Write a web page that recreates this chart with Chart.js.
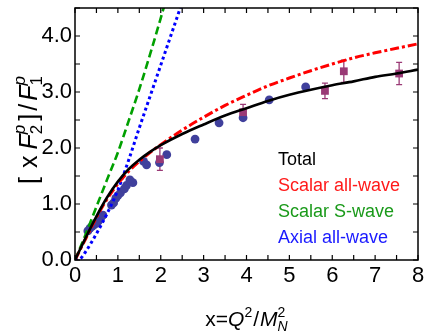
<!DOCTYPE html>
<html>
<head>
<meta charset="utf-8">
<script src="https://cdn.jsdelivr.net/npm/chart.js@4.4.0/dist/chart.umd.min.js"></script>
<style>
  html, body { margin: 0; padding: 0; background: #fff; }
  canvas { display: block; }
</style>
</head>
<body>
<canvas id="myChart" width="425" height="333"></canvas>
<script>
  // model curves
  const curveX = [0, 0.25, 0.5, 0.75, 1, 1.25, 1.5, 1.75, 2, 2.5, 3, 3.5, 4, 4.5, 5, 5.5, 6, 6.5, 7, 7.5, 8];
  const totalY = [0, 0.40, 0.78, 1.12, 1.40, 1.62, 1.79, 1.93, 2.05, 2.25, 2.42, 2.58, 2.71, 2.84, 2.95, 3.04, 3.12, 3.19, 3.27, 3.33, 3.40];
  const scalarAllY = [0, 0.38, 0.76, 1.09, 1.36, 1.58, 1.76, 1.92, 2.06, 2.32, 2.55, 2.76, 2.94, 3.11, 3.25, 3.38, 3.50, 3.61, 3.70, 3.78, 3.86];
  const scalarSX = [0, 0.25, 0.5, 0.75, 1, 1.25, 1.5, 1.75, 2, 2.25];
  const scalarSY = [0, 0.46, 0.95, 1.44, 1.92, 2.48, 3.05, 3.67, 4.32, 5.0];
  const axialX = [0, 0.12, 0.25, 0.5, 0.75, 1, 1.25, 1.5, 1.75, 2, 2.25, 2.5];
  const axialY = [0, 0.02, 0.15, 0.47, 0.83, 1.25, 1.78, 2.36, 2.92, 3.48, 4.04, 4.60];

  // data points
  const circleX = [0.30, 0.35, 0.40, 0.45, 0.50, 0.55, 0.60, 0.65, 0.85, 0.90, 0.95, 1.00, 1.06, 1.15, 1.20, 1.28, 1.35, 1.60, 1.67, 1.97, 2.14, 2.80, 3.36, 3.92, 4.53, 5.38];
  const circleY = [0.52, 0.57, 0.60, 0.63, 0.66, 0.70, 0.75, 0.80, 0.98, 1.02, 1.10, 1.15, 1.20, 1.27, 1.33, 1.43, 1.38, 1.76, 1.70, 1.74, 1.88, 2.16, 2.45, 2.54, 2.86, 3.09];
  const squareX = [1.98, 3.92, 5.83, 6.27, 7.56];
  const squareY = [1.80, 2.64, 3.02, 3.37, 3.33];
  const squareErr = [0.20, 0.14, 0.14, 0.20, 0.20];

  const xTicks = [0, 1, 2, 3, 4, 5, 6, 7, 8];
  const yTicks = [0, 1, 2, 3, 4];

  const legendLabels = ['Total', 'Scalar all-wave', 'Scalar S-wave', 'Axial all-wave'];
  const legendColors = ['#000000', '#ff1a1a', '#1a9a1a', '#1a1aff'];

  const FONT = "'Liberation Sans', Arial, sans-serif";
  const circleColor = '#40409c';
  const squareColor = '#9a3a76';

  function pts(xs, ys) {
    return xs.map((x, i) => ({ x: x, y: ys[i] }));
  }

  // text made of parts: plain text, gaps, stacked super/subscripts
  function partWidth(ctx, p) {
    if (p.gap) return p.gap;
    if (p.stack) return Math.max(...p.stack.map(s => { ctx.font = s.f; return ctx.measureText(s.t).width; }));
    ctx.font = p.f;
    return ctx.measureText(p.t).width;
  }
  function richWidth(ctx, parts) {
    return parts.reduce((w, p) => w + partWidth(ctx, p), 0);
  }
  function drawRich(ctx, x, y, parts) {
    parts.forEach(p => {
      const w = partWidth(ctx, p);
      if (p.stack) {
        p.stack.forEach(s => { ctx.font = s.f; ctx.fillText(s.t, x, y + s.dy); });
      } else if (p.t) {
        ctx.font = p.f;
        ctx.fillText(p.t, x, y);
      }
      x += w;
    });
  }

  const YN = '25px ' + FONT, YI = 'italic 25px ' + FONT;
  const YSN = '17px ' + FONT, YSI = 'italic 17px ' + FONT;
  const yTitle = [
    { t: '[', f: YN }, { gap: 9 }, { t: 'x', f: YN }, { gap: 6 }, { t: 'F', f: YI },
    { stack: [{ t: 'p', f: YSI, dy: -12 }, { t: '2', f: YSN, dy: 5 }] },
    { gap: 4 }, { t: ']', f: YN }, { gap: 3 }, { t: '/', f: YN }, { gap: 3 }, { t: 'F', f: YI },
    { stack: [{ t: 'p', f: YSI, dy: -12 }, { t: '1', f: YSN, dy: 5 }] }
  ];
  const XN = '21px ' + FONT, XI = 'italic 21px ' + FONT;
  const XSN = '14px ' + FONT, XSI = 'italic 14px ' + FONT;
  const xTitle = [
    { t: 'x=', f: XN }, { t: 'Q', f: XI },
    { stack: [{ t: '2', f: XSN, dy: -9 }] },
    { gap: 1 }, { t: '/', f: XN }, { gap: 1 }, { t: 'M', f: XI },
    { stack: [{ t: '2', f: XSN, dy: -9 }, { t: 'N', f: XSI, dy: 5 }] }
  ];

  const frame = {
    id: 'frame',
    beforeDatasetsDraw(chart) {
      const ctx = chart.ctx, xs = chart.scales.x, ys = chart.scales.y;
      ctx.save();
      ctx.strokeStyle = squareColor;
      ctx.lineWidth = 1.3;
      squareX.forEach((x, i) => {
        const px = xs.getPixelForValue(x);
        const top = ys.getPixelForValue(squareY[i] + squareErr[i]);
        const bot = ys.getPixelForValue(squareY[i] - squareErr[i]);
        ctx.beginPath();
        ctx.moveTo(px, top); ctx.lineTo(px, bot);
        ctx.moveTo(px - 3, top); ctx.lineTo(px + 3, top);
        ctx.moveTo(px - 3, bot); ctx.lineTo(px + 3, bot);
        ctx.stroke();
      });
      ctx.restore();
    },
    afterDraw(chart) {
      const ctx = chart.ctx, a = chart.chartArea;
      const xs = chart.scales.x, ys = chart.scales.y;
      ctx.save();
      ctx.strokeStyle = '#000';
      ctx.lineWidth = 1.5;
      ctx.strokeRect(a.left, a.top, a.right - a.left, a.bottom - a.top);
      ctx.lineWidth = 1.2;
      ctx.beginPath();
      for (let v = 0; v <= 8; v += 0.5) {
        const px = xs.getPixelForValue(v);
        ctx.moveTo(px, a.bottom); ctx.lineTo(px, a.bottom - 5);
        ctx.moveTo(px, a.top); ctx.lineTo(px, a.top + 5);
      }
      for (let v = 0; v <= 4.5; v += 0.5) {
        const py = ys.getPixelForValue(v);
        ctx.moveTo(a.left, py); ctx.lineTo(a.left + 5, py);
        ctx.moveTo(a.right, py); ctx.lineTo(a.right - 5, py);
      }
      ctx.stroke();

      // legend text
      ctx.font = '18px ' + FONT;
      ctx.textBaseline = 'alphabetic';
      legendLabels.forEach((t, i) => {
        ctx.fillStyle = legendColors[i];
        ctx.fillText(t, 278, 165 + i * 26);
      });

      // axis titles
      ctx.fillStyle = '#000';
      const xw = richWidth(ctx, xTitle);
      drawRich(ctx, (a.left + a.right) / 2 - xw / 2, 326, xTitle);
      ctx.translate(37, 130);
      ctx.rotate(-Math.PI / 2);
      const yw = richWidth(ctx, yTitle);
      drawRich(ctx, -yw / 2, 0, yTitle);
      ctx.restore();
    }
  };

  const data = {
    datasets: [
      {
        label: 'Total',
        data: pts(curveX, totalY),
        showLine: true,
        borderColor: '#000000',
        borderWidth: 2.6,
        pointRadius: 0,
        cubicInterpolationMode: 'monotone'
      },
      {
        label: 'Scalar all-wave',
        data: pts(curveX, scalarAllY),
        showLine: true,
        borderColor: '#ff0000',
        borderWidth: 3,
        borderDash: [9, 3, 3, 3],
        pointRadius: 0,
        cubicInterpolationMode: 'monotone'
      },
      {
        label: 'Scalar S-wave',
        data: pts(scalarSX, scalarSY),
        showLine: true,
        borderColor: '#00a000',
        borderWidth: 2.6,
        borderDash: [8, 4],
        pointRadius: 0,
        cubicInterpolationMode: 'monotone',
        clip: 0
      },
      {
        label: 'Axial all-wave',
        data: pts(axialX, axialY),
        showLine: true,
        borderColor: '#0000ff',
        borderWidth: 3,
        borderDash: [3, 3],
        pointRadius: 0,
        cubicInterpolationMode: 'monotone',
        clip: 0
      },
      {
        label: 'squares',
        data: pts(squareX, squareY),
        pointStyle: 'rect',
        pointRadius: 5.5,
        backgroundColor: squareColor,
        borderWidth: 0
      },
      {
        label: 'circles',
        data: pts(circleX, circleY),
        pointRadius: 4.4,
        backgroundColor: circleColor,
        borderWidth: 0
      }
    ]
  };

  function noPad(s) {
    s.paddingTop = 0; s.paddingBottom = 0; s.paddingLeft = 0; s.paddingRight = 0;
  }

  const config = {
    type: 'scatter',
    data: data,
    options: {
      responsive: false,
      animation: false,
      devicePixelRatio: 1,
      layout: { padding: { top: 8, right: 7, left: 0, bottom: 0 } },
      plugins: { legend: { display: false }, tooltip: { enabled: false } },
      scales: {
        x: {
          type: 'linear', min: 0, max: 8,
          afterBuildTicks: s => { s.ticks = xTicks.map(v => ({ value: v })); },
          afterFit: s => { s.height = 73; noPad(s); },
          grid: { display: false, drawTicks: false },
          border: { display: false },
          ticks: { color: '#000', padding: 3, font: { family: FONT, size: 22 } }
        },
        y: {
          type: 'linear', min: 0, max: 4.5,
          afterBuildTicks: s => { s.ticks = yTicks.map(v => ({ value: v })); },
          afterFit: s => { s.width = 75; noPad(s); },
          grid: { display: false, drawTicks: false },
          border: { display: false },
          ticks: { color: '#000', padding: 3, font: { family: FONT, size: 22 },
                   callback: v => v.toFixed(1) }
        }
      }
    },
    plugins: [frame]
  };

  const myChart = new Chart(document.getElementById('myChart'), config);
</script>
</body>
</html>
